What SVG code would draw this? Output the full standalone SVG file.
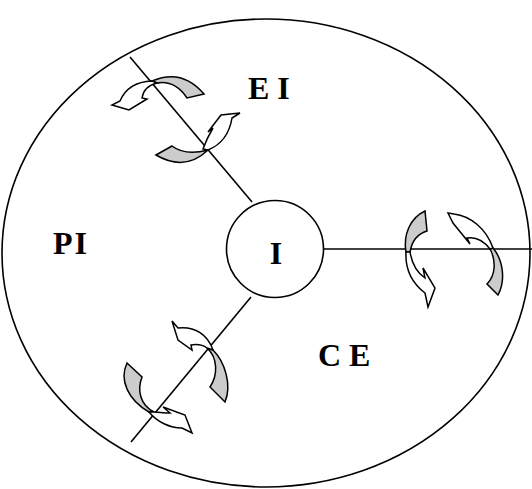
<svg xmlns="http://www.w3.org/2000/svg" width="532" height="489" viewBox="0 0 532 489">
<style>
.ln{stroke:#000;stroke-width:1.6;fill:none}
.gr{fill:#cccccc;stroke:#000;stroke-width:1.5;stroke-linejoin:miter}
.wh{fill:#ffffff;stroke:#000;stroke-width:1.5;stroke-linejoin:miter}
.lbl{font-family:"Liberation Serif","Times New Roman",serif;font-weight:bold;font-size:32px;fill:#000}
</style>
<rect width="532" height="489" fill="#fff"/>
<g id="outer">
<ellipse cx="266" cy="253" rx="264" ry="234" class="ln"/>
</g>
<g id="connectors">
<line x1="130" y1="57" x2="252" y2="202" class="ln"/>
<line x1="323" y1="249" x2="532" y2="249" class="ln"/>
<line x1="251" y1="297" x2="131" y2="442" class="ln"/>
</g>
<g id="center">
<circle cx="275" cy="249" r="48.5" class="ln" fill="#fff"/>
<text x="276" y="264" text-anchor="middle" class="lbl">I</text>
</g>
<g id="arrow-ei-upper">
<path class="gr" d="M152,81 Q182,68 204,94 L187,98 Q175,80 157,83 Z"/>
<path class="wh" d="M152,81 Q128,82 120,101 L112,105 L129,110 L147,99 L142,98 Q144,86 157,83 Z"/>
</g>
<g id="arrow-ei-lower">
<path class="gr" d="M156,155 L172,146 Q185,156 208,150 Q185,172 156,155 Z"/>
<path class="wh" d="M208,150 Q228,142 232,118 L240,113 L221,115 L208,132 L213,128 Q207,138 203,149 Z"/>
</g>
<g id="arrow-ce-left">
<path class="gr" d="M406,252 C403,235 410,218 425,211 L427,231 Q413,235 410,252 Z"/>
<path class="wh" d="M406,252 C405,270 412,283 425,293 L428,307 L435,288 L423,268 L425,278 Q413,270 410,252 Z"/>
</g>
<g id="arrow-ce-right">
<path class="gr" d="M493,248 C503,260 506,280 498,295 L487,284 C496,275 496,260 490,249 Z"/>
<path class="wh" d="M493,248 C486,228 470,216 454,214 L448,213 L453,223 L470,244 L467,238 Q480,236 490,249 Z"/>
</g>
<g id="arrow-pi-upper">
<path class="gr" d="M213,350 C225,362 232,385 225,402 L210,387 C218,375 218,358 207,348 Z"/>
<path class="wh" d="M213,350 C208,335 195,326 178,328 L172,321 L178,340 L192,350 L191,345 C197,344 203,345 207,348 Z"/>
</g>
<g id="arrow-pi-lower">
<path class="gr" d="M127,363 L142,377 C137,390 140,405 154,412 L149,412 C128,400 119,380 127,363 Z"/>
<path class="wh" d="M149,412 C157,422 170,428 182,428 L192,433 L185,415 L163,407 L170,413 C164,413 158,412 154,412 Z"/>
</g>
<g id="labels">
<text x="248" y="99" class="lbl">E I</text>
<text x="53" y="254" class="lbl" letter-spacing="2">PI</text>
<text x="318" y="366" class="lbl">C E</text>
</g>
</svg>
